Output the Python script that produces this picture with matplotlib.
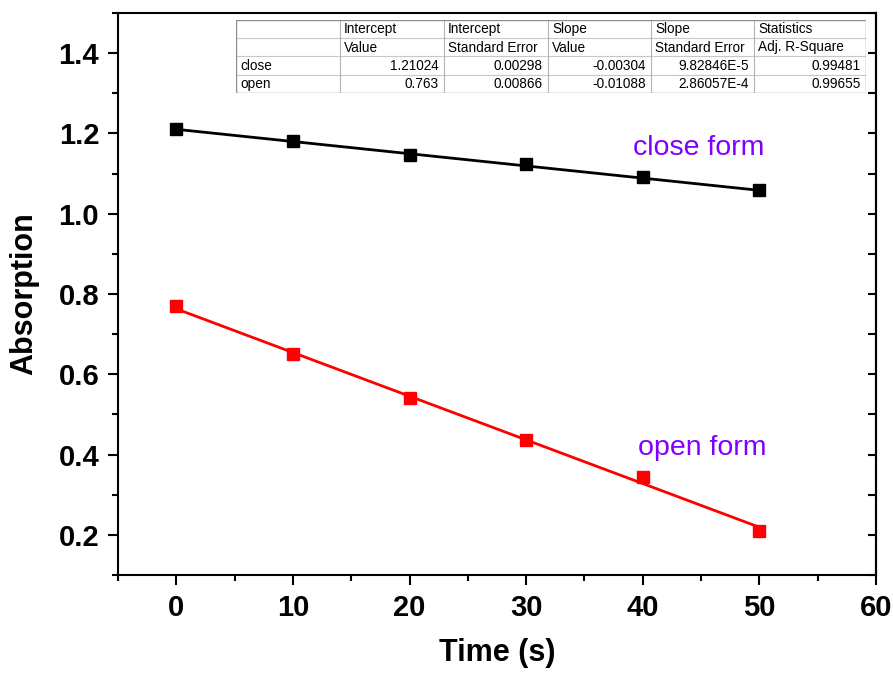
import numpy as np
import matplotlib
matplotlib.use("Agg")
import matplotlib.pyplot as plt
from matplotlib.ticker import MultipleLocator

plt.rcParams['font.family'] = ['Liberation Sans', 'DejaVu Sans']

# Measured absorption over time
time_s = [0, 10, 20, 30, 40, 50]
close_abs = [1.211, 1.181, 1.146, 1.124, 1.091, 1.059]
open_abs = [0.770, 0.651, 0.541, 0.437, 0.344, 0.210]

# Linear fit results
series_names = ["close", "open"]
intercept_value = ["1.21024", "0.763"]
intercept_err = ["0.00298", "0.00866"]
slope_value = ["-0.00304", "-0.01088"]
slope_err = ["9.82846E-5", "2.86057E-4"]
adj_r2 = ["0.99481", "0.99655"]
header_top = ["", "Intercept", "Intercept", "Slope", "Slope", "Statistics"]
header_bottom = ["", "Value", "Standard Error", "Value", "Standard Error", "Adj. R-Square"]

W, H = 893, 679
fig = plt.figure(figsize=(W / 100, H / 100), dpi=100)
ax = fig.add_axes([118 / W, 1 - 575 / H, (876 - 118) / W, (575 - 13) / H])

# data points and fitted lines
fit_x = np.array([time_s[0], time_s[-1]])
for ys, b, m, col in [(close_abs, intercept_value[0], slope_value[0], 'black'),
                      (open_abs, intercept_value[1], slope_value[1], '#FF0000')]:
    ax.plot(fit_x, float(b) + float(m) * fit_x, color=col, lw=2.0, zorder=2)
    ax.plot(time_s, ys, ls='none', marker='s', ms=9, color=col, zorder=3)

ax.set_xlim(-5, 60)
ax.set_ylim(0.1, 1.5)
ax.xaxis.set_major_locator(MultipleLocator(10))
ax.xaxis.set_minor_locator(MultipleLocator(5))
ax.yaxis.set_major_locator(MultipleLocator(0.2))
ax.yaxis.set_minor_locator(MultipleLocator(0.1))
ax.set_xticks([0, 10, 20, 30, 40, 50, 60])
ax.set_yticks([0.2, 0.4, 0.6, 0.8, 1.0, 1.2, 1.4])
ax.yaxis.set_major_formatter(plt.FuncFormatter(lambda v, p: f"{v:.1f}"))

for s in ax.spines.values():
    s.set_linewidth(1.5)
ax.tick_params(which='both', direction='out', width=1.5, top=False, right=False)
ax.tick_params(which='major', length=7.5)
ax.tick_params(which='minor', length=4)
ax.tick_params(axis='both', labelsize=21, pad=6)
for lbl in ax.get_xticklabels() + ax.get_yticklabels():
    lbl.set_fontweight('bold')

# inward ticks on the right spine
sec = ax.secondary_yaxis('right')
sec.yaxis.set_major_locator(MultipleLocator(0.2))
sec.yaxis.set_minor_locator(MultipleLocator(0.1))
sec.tick_params(which='both', direction='in', length=6, width=1.5, labelright=False)
sec.spines['right'].set_linewidth(1.5)

ax.set_xlabel("Time (s)", fontsize=22, fontweight='bold', labelpad=12)
ax.set_ylabel("Absorption", fontsize=22, fontweight='bold', labelpad=14)

ax.text(39.2, 1.146, "close form", color='#8000FF', fontsize=20.5, va='baseline')
ax.text(39.6, 0.399, "open form", color='#8000FF', fontsize=20.5, va='baseline')

# fit summary table
cols = [236, 340, 444, 548, 651, 754, 866]
rows = [20, 38.5, 56.5, 75, 93]
tab = fig.add_axes([cols[0] / W, 1 - rows[-1] / H, (cols[-1] - cols[0]) / W, (rows[-1] - rows[0]) / H])
tab.set_xlim(cols[0], cols[-1])
tab.set_ylim(rows[-1], rows[0])
tab.axis('off')
tab.add_patch(plt.Rectangle((cols[0], rows[0]), cols[-1] - cols[0], rows[-1] - rows[0],
                            facecolor='white', edgecolor='none', zorder=0))
for y in rows[1:-1]:
    tab.plot([cols[0], cols[-1]], [y, y], color='#c8c8c8', lw=0.8, zorder=1)
for x in cols[1:-1]:
    tab.plot([x, x], [rows[0], rows[-1]], color='#b4b4b4', lw=0.8, zorder=1)
tab.add_patch(plt.Rectangle((cols[0], rows[0]), cols[-1] - cols[0], rows[-1] - rows[0],
                            facecolor='none', edgecolor='#8c8c8c', lw=1.0, zorder=2))

fs = 9.8
for j in range(1, 6):
    tab.text(cols[j] + 4, (rows[0] + rows[1]) / 2, header_top[j], fontsize=fs, va='center', ha='left')
    tab.text(cols[j] + 4, (rows[1] + rows[2]) / 2, header_bottom[j], fontsize=fs, va='center', ha='left')
body = [intercept_value, intercept_err, slope_value, slope_err, adj_r2]
for i, name in enumerate(series_names):
    yc = (rows[2 + i] + rows[3 + i]) / 2
    tab.text(cols[0] + 4, yc, name, fontsize=fs, va='center', ha='left')
    for j, colvals in enumerate(body):
        tab.text(cols[j + 2] - 5, yc, colvals[i], fontsize=fs, va='center', ha='right')

fig.savefig("out.png", dpi=100)
